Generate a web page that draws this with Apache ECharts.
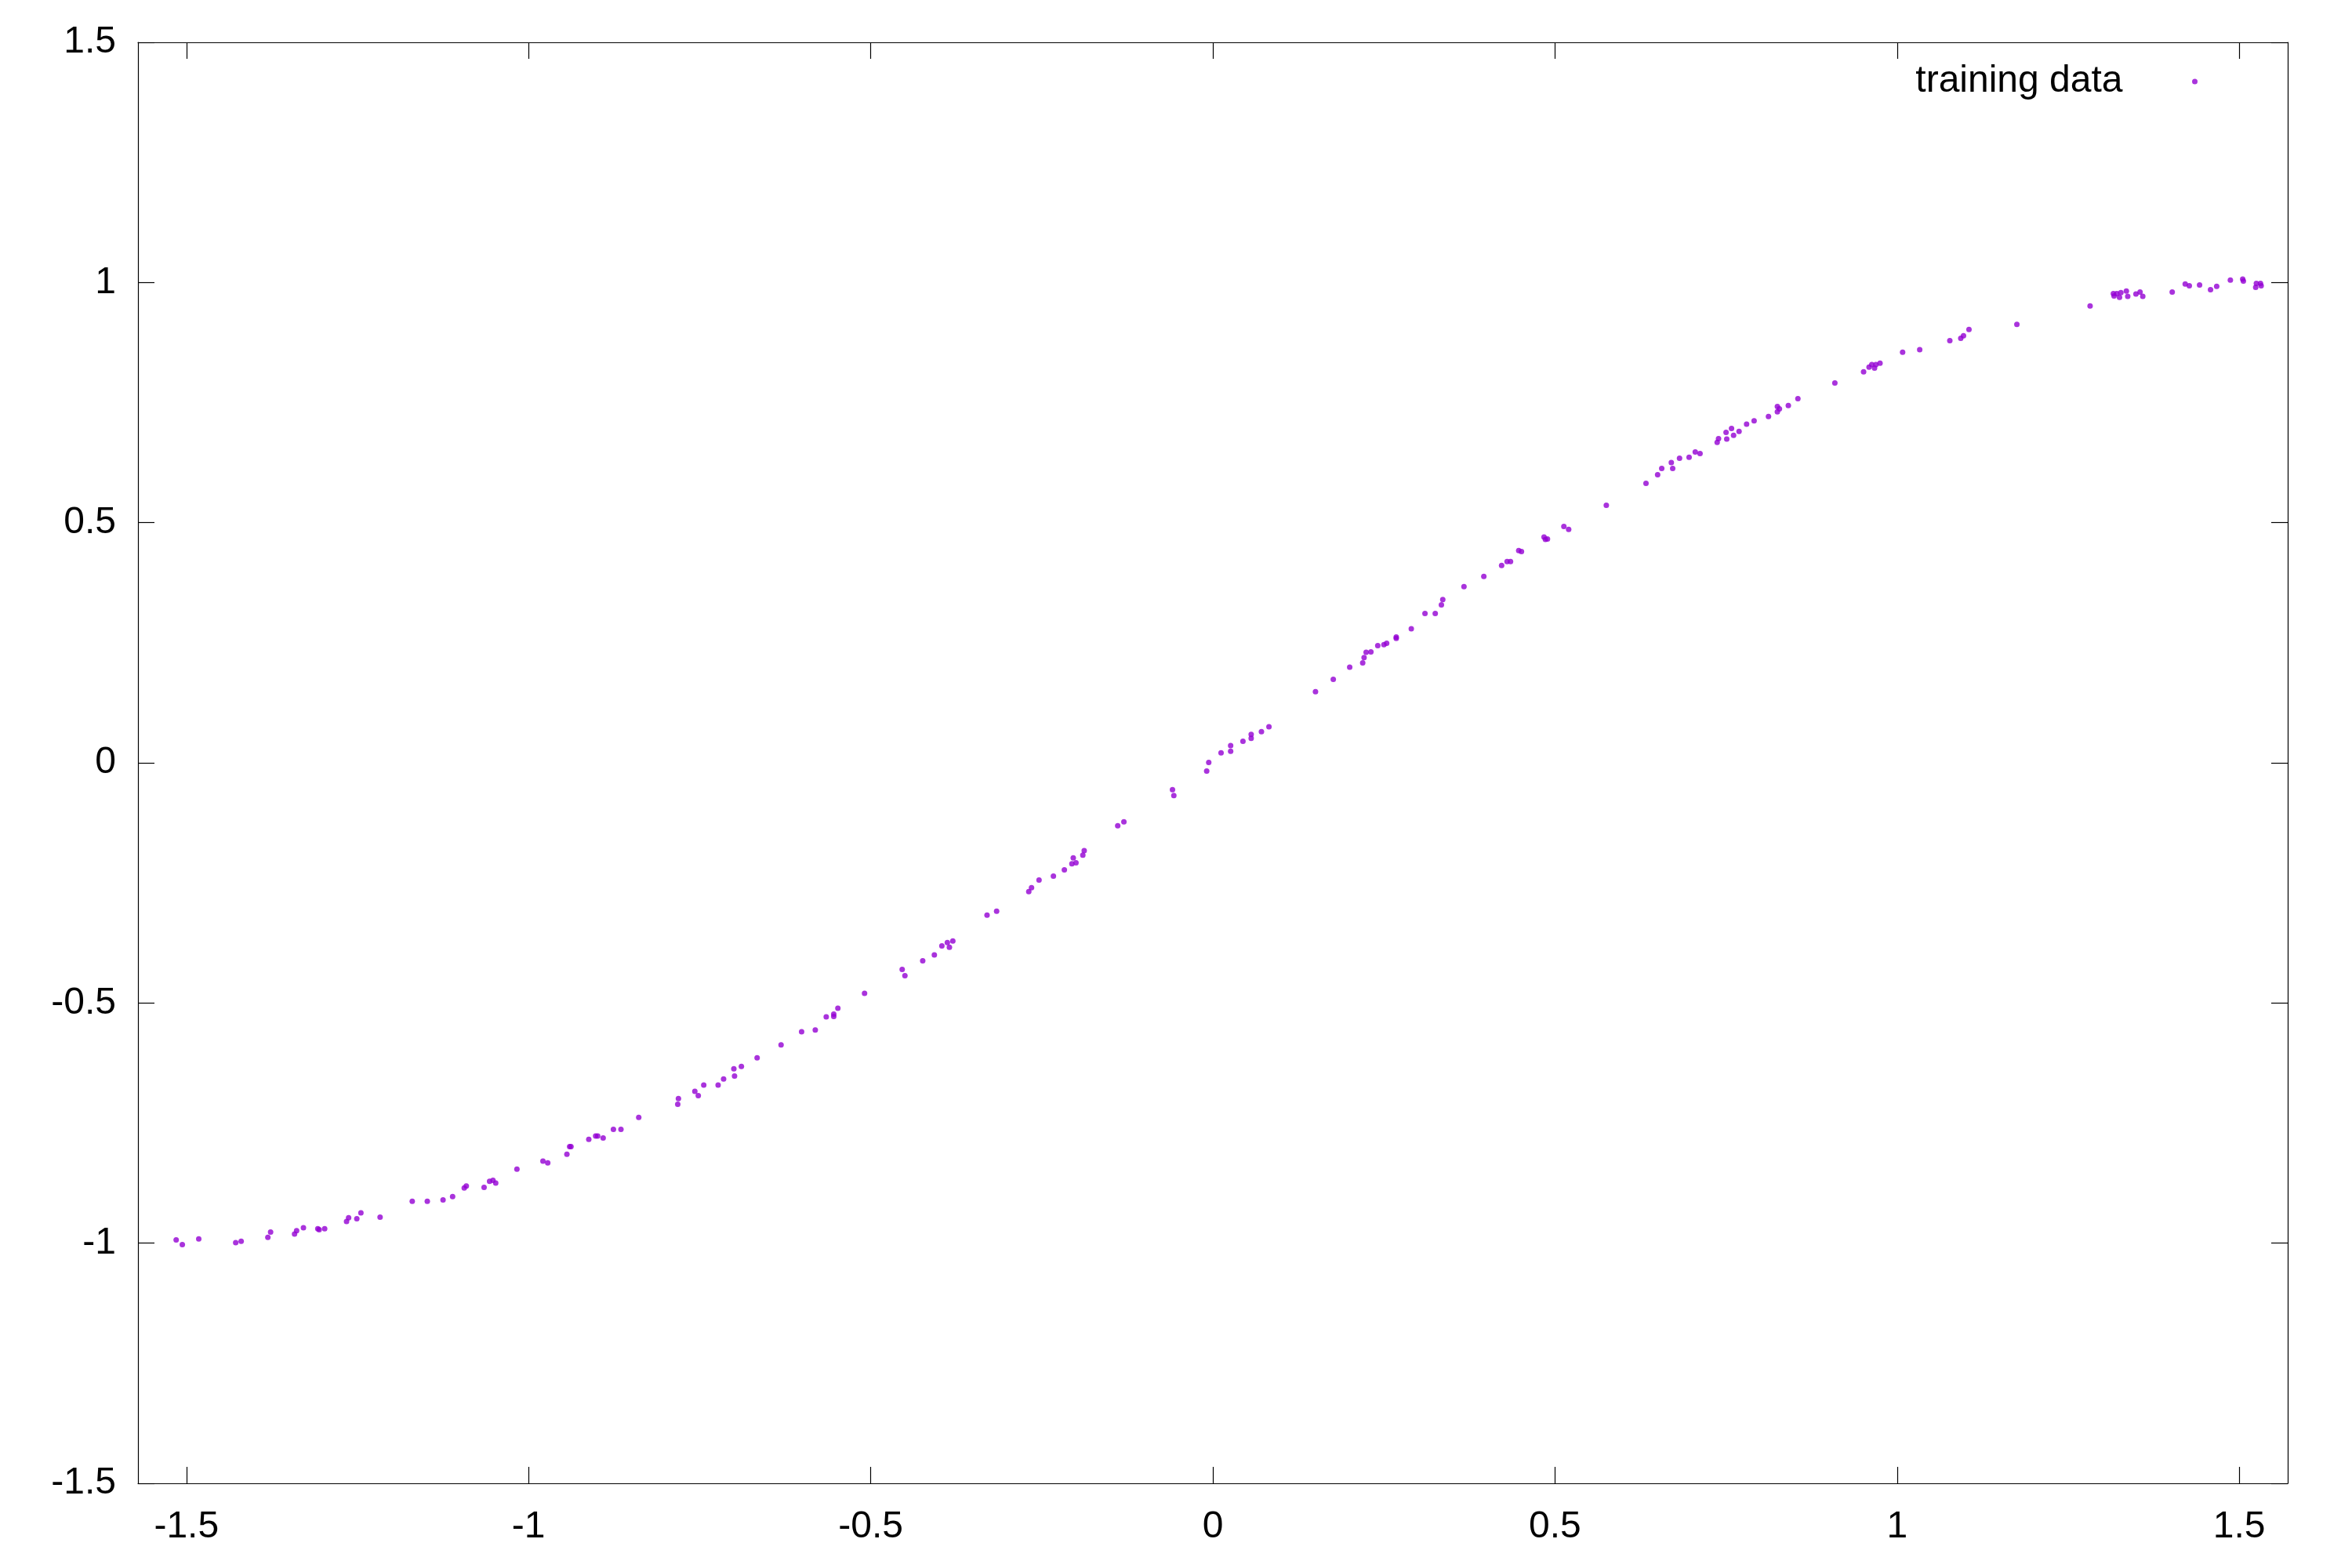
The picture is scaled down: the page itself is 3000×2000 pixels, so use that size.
<!DOCTYPE html>
<html>
<head>
<meta charset="utf-8">
<script src="https://cdn.jsdelivr.net/npm/echarts@6/dist/echarts.min.js"></script>
<style>html,body{margin:0;padding:0;background:#fff;}#c{width:3000px;height:2000px;}</style>
</head>
<body>
<div id="c"></div>
<script>
const seriesName = 'training data';
const xTicks = [-1.5, -1, -0.5, 0, 0.5, 1, 1.5];
const yTicks = [-1.5, -1, -0.5, 0, 0.5, 1, 1.5];
const xs = [
-1.515,-1.506,-1.482,-1.428,-1.420,-1.381,-1.377,-1.342,-1.339,-1.329,-1.308,-1.306,-1.298,-1.266,-1.263,-1.251,-1.245,-1.217,-1.170,-1.148,-1.125,-1.111,-1.094,-1.091,-1.065,-1.057,-1.052,-1.048,
-1.017,-0.979,-0.972,-0.944,-0.940,-0.938,-0.912,-0.902,-0.899,-0.891,-0.876,-0.865,-0.839,-0.782,-0.781,-0.757,-0.752,-0.744,-0.723,-0.715,-0.700,-0.699,-0.689,-0.666,-0.631,-0.601,-0.581,-0.565,-0.554,-0.554,-0.548,-0.509,
-0.454,-0.450,-0.424,-0.407,-0.396,-0.388,-0.385,-0.380,-0.330,-0.316,-0.269,-0.265,-0.254,-0.233,-0.217,-0.206,-0.200,-0.204,-0.190,-0.188,-0.139,-0.130,-0.059,-0.057,-0.009,-0.006,0.012,
0.026,0.026,0.044,0.056,0.056,0.071,0.082,0.150,0.176,0.200,0.219,0.221,0.224,0.231,0.241,0.250,0.254,0.268,0.268,0.290,0.310,0.325,0.334,0.336,0.367,0.396,0.422,0.430,0.435,0.447,0.451,0.484,0.486,0.489,0.513,0.520,
0.575,0.633,0.650,0.656,0.670,0.672,0.682,0.696,0.705,0.712,0.737,0.739,0.750,0.751,0.758,0.761,0.769,0.780,0.791,0.812,0.825,0.828,0.825,0.841,0.855,0.909,0.951,0.959,0.963,0.967,0.969,0.975,1.008,1.033,
1.077,1.093,1.097,1.105,1.175,1.282,1.316,1.317,1.321,1.325,1.327,1.335,1.337,1.349,1.355,1.359,1.402,1.421,1.427,1.442,1.458,1.467,1.487,1.505,1.506,1.524,1.525,1.531,1.532
];
const ys = [
-0.993,-1.003,-0.991,-0.999,-0.996,-0.988,-0.977,-0.981,-0.974,-0.968,-0.970,-0.972,-0.970,-0.955,-0.947,-0.949,-0.937,-0.946,-0.913,-0.913,-0.910,-0.903,-0.885,-0.881,-0.884,-0.871,-0.869,-0.875,
-0.846,-0.829,-0.833,-0.815,-0.799,-0.799,-0.784,-0.777,-0.777,-0.781,-0.763,-0.763,-0.738,-0.711,-0.699,-0.684,-0.693,-0.671,-0.671,-0.658,-0.637,-0.652,-0.632,-0.614,-0.587,-0.560,-0.556,-0.529,-0.523,-0.528,-0.511,-0.480,
-0.430,-0.443,-0.412,-0.400,-0.381,-0.374,-0.384,-0.371,-0.317,-0.309,-0.268,-0.260,-0.244,-0.236,-0.223,-0.210,-0.208,-0.198,-0.192,-0.183,-0.131,-0.123,-0.056,-0.068,-0.017,0.001,0.021,
0.036,0.024,0.045,0.059,0.051,0.065,0.075,0.148,0.174,0.199,0.208,0.219,0.230,0.231,0.244,0.246,0.249,0.262,0.259,0.279,0.311,0.311,0.329,0.340,0.367,0.388,0.411,0.419,0.419,0.442,0.440,0.470,0.465,0.466,0.492,0.486,
0.536,0.582,0.600,0.613,0.625,0.613,0.634,0.636,0.647,0.644,0.667,0.675,0.688,0.674,0.696,0.682,0.690,0.705,0.712,0.721,0.742,0.737,0.731,0.744,0.758,0.791,0.814,0.824,0.829,0.822,0.829,0.832,0.855,0.860,
0.879,0.884,0.889,0.902,0.913,0.951,0.977,0.972,0.977,0.969,0.979,0.982,0.971,0.976,0.980,0.971,0.980,0.997,0.993,0.995,0.985,0.992,1.005,1.007,1.003,0.990,0.998,0.998,0.993
];
const points = xs.map((x, i) => [x, ys[i]]);

const chart = echarts.init(document.getElementById('c'), null, {renderer: 'canvas'});
const font = 'Liberation Sans';
const fontSize = 48;
const lineStyle = {color: '#000', width: 1.2};
const baseX = {
  type: 'value', min: -1.5708, max: 1.5708,
  axisLine: {show: true, onZero: false, lineStyle},
  splitLine: {show: false}
};
const baseY = {
  type: 'value', min: -1.5, max: 1.5, interval: 0.5,
  axisLine: {show: true, onZero: false, lineStyle},
  splitLine: {show: false}
};
chart.setOption({
  animation: false,
  backgroundColor: '#fff',
  grid: {left: 176, right: 82, top: 54, bottom: 108, containLabel: false},
  legend: {
    data: [{name: seriesName, icon: 'circle'}],
    right: 197, top: 80, padding: 0,
    align: 'right',
    itemWidth: 174, itemHeight: 7,
    textStyle: {fontFamily: font, fontSize: fontSize, color: '#000'}
  },
  xAxis: [
    Object.assign({}, baseX, {
      position: 'bottom',
      axisTick: {show: true, inside: true, length: 21, lineStyle, customValues: xTicks},
      axisLabel: {show: true, margin: 32, fontFamily: font, fontSize: fontSize, color: '#000', customValues: xTicks}
    }),
    Object.assign({}, baseX, {
      position: 'top',
      axisTick: {show: true, inside: true, length: 21, lineStyle, customValues: xTicks},
      axisLabel: {show: false}
    })
  ],
  yAxis: [
    Object.assign({}, baseY, {
      position: 'left',
      axisTick: {show: true, inside: true, length: 21, lineStyle},
      axisLabel: {show: true, margin: 28, fontFamily: font, fontSize: fontSize, color: '#000'}
    }),
    Object.assign({}, baseY, {
      position: 'right',
      axisTick: {show: true, inside: true, length: 21, lineStyle},
      axisLabel: {show: false}
    })
  ],
  series: [{
    name: seriesName,
    type: 'scatter',
    data: points,
    symbol: 'circle',
    symbolSize: 7,
    itemStyle: {color: '#9400d3'}
  }]
});
</script>
</body>
</html>
